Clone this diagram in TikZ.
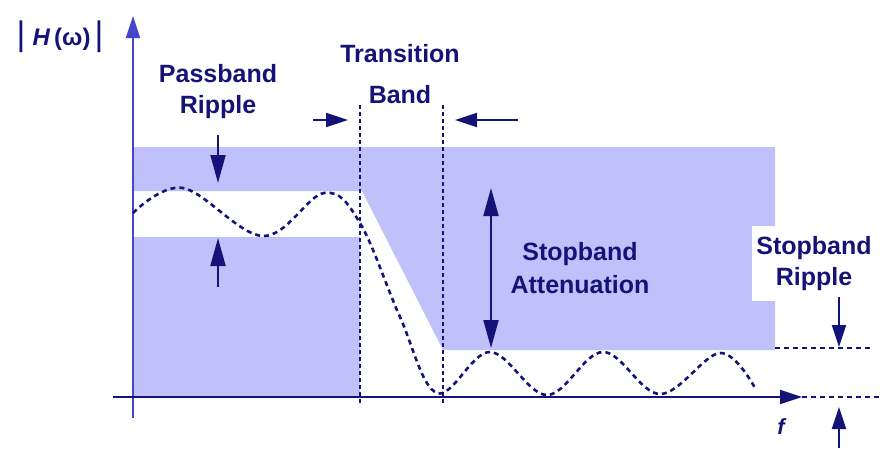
\documentclass[tikz,border=0pt]{standalone}
\usepackage{fontspec}
\setmainfont{Liberation Sans}
\usetikzlibrary{arrows.meta, positioning}
\definecolor{bandblue}{RGB}{192,192,250}
\definecolor{navy}{RGB}{20,20,120}
\definecolor{axisblue}{RGB}{70,70,200}

\begin{document}
\begin{tikzpicture}[x=1pt, y=-1pt, >={Triangle[length=22pt,width=14pt]},
    lbl/.style={text=navy, font=\bfseries\fontsize{25}{31}\selectfont,
      align=center, inner sep=0pt, anchor=north},
    longtip/.style={-{Triangle[length=28pt,width=15pt]}},
    guide/.style={navy, line width=1.2pt, dash pattern=on 4pt off 3pt},
    level/.style={navy, line width=1.5pt, dash pattern=on 5pt off 4pt}]
  \useasboundingbox (0,0) rectangle (880,448);

  % Tolerance bands
  \fill[bandblue] (133,147) -- (775,147) -- (775,350) -- (443,350)
    -- (362,191) -- (133,191) -- cycle;
  \fill[bandblue] (133,237) rectangle (360,397);

  % Labels
  \node[lbl] (hmag) at (60,37) [anchor=center, font=\fontsize{24}{28}\selectfont]
    {{\fontsize{34}{34}\selectfont|}\hspace{7pt}\textbf{\textit{H}}\,\textbf{(ω)}\hspace{4pt}{\fontsize{34}{34}\selectfont|}};
  \node[lbl] (pbrip) at (218,64) {Passband\\Ripple};
  \node[lbl] (trans) at (400,44) {Transition\\[10pt]Band};
  \node[lbl] (atten) at (580,242) {Stopband\\[2pt]Attenuation};
  \node[lbl, fill=white, inner xsep=4pt, inner ysep=10pt] (sbrip) at (814,226)
    {Stopband\\Ripple};
  \node[lbl, anchor=center, font=\bfseries\itshape\fontsize{22}{25}\selectfont] (freq)
    at (781,427) {f};

  % Axes
  \coordinate (ybot) at (133,418);
  \coordinate (ytop) at (133,16);
  \coordinate (xleft) at (113,397);
  \coordinate (xright) at (802,397);
  \draw[->, axisblue, line width=2.2pt] (ybot) -- (ytop);
  \draw[->, navy, line width=2.2pt] (xleft) -- (xright);

  % Band edges
  \coordinate (pedge top) at (360,105);
  \coordinate (pedge bot) at (360,403);
  \coordinate (sedge top) at (443,105);
  \coordinate (sedge bot) at (443,403);
  \draw[guide] (pedge top) -- (pedge bot);
  \draw[guide] (sedge top) -- (sedge bot);

  % Stopband ripple levels
  \coordinate (slev l) at (775,348);
  \coordinate (slev r) at (873,348);
  \coordinate (zlev l) at (802,397);
  \coordinate (zlev r) at (880,397);
  \draw[level] (slev l) -- (slev r);
  \draw[level] (zlev l) -- (zlev r);

  % Response
  \draw[navy, line width=2.6pt, dash pattern=on 5pt off 4pt]
    plot[smooth, tension=0.6] coordinates {(133,213) (183,188) (263,236)
      (324,193) (360,223) (400,317) (437,393) (490,352) (547,395)
      (603,352) (660,394) (720,353) (755,388)};

  % Markers
  \coordinate (ta) at (313,120);
  \coordinate (tb) at (348,120);
  \coordinate (tc) at (518,120);
  \coordinate (td) at (455,120);
  \draw[->, navy, line width=2pt] (ta) -- (tb);
  \draw[->, navy, line width=2pt] (tc) -- (td);

  \coordinate (pa) at (218,135);
  \coordinate (pb) at (218,183);
  \coordinate (pc) at (218,287);
  \coordinate (pd) at (218,238);
  \draw[longtip, navy, line width=2pt] (pa) -- (pb);
  \draw[longtip, navy, line width=2pt] (pc) -- (pd);

  \coordinate (aa) at (491,188);
  \coordinate (ab) at (491,348);
  \draw[{Triangle[length=28pt,width=15pt]}-{Triangle[length=28pt,width=15pt]},
    navy, line width=2pt] (aa) -- (ab);

  \coordinate (sa) at (839,297);
  \coordinate (sb) at (839,347);
  \coordinate (sc) at (839,448);
  \coordinate (sd) at (839,407);
  \draw[->, navy, line width=2pt] (sa) -- (sb);
  \draw[->, navy, line width=2pt] (sc) -- (sd);
\end{tikzpicture}
\end{document}
